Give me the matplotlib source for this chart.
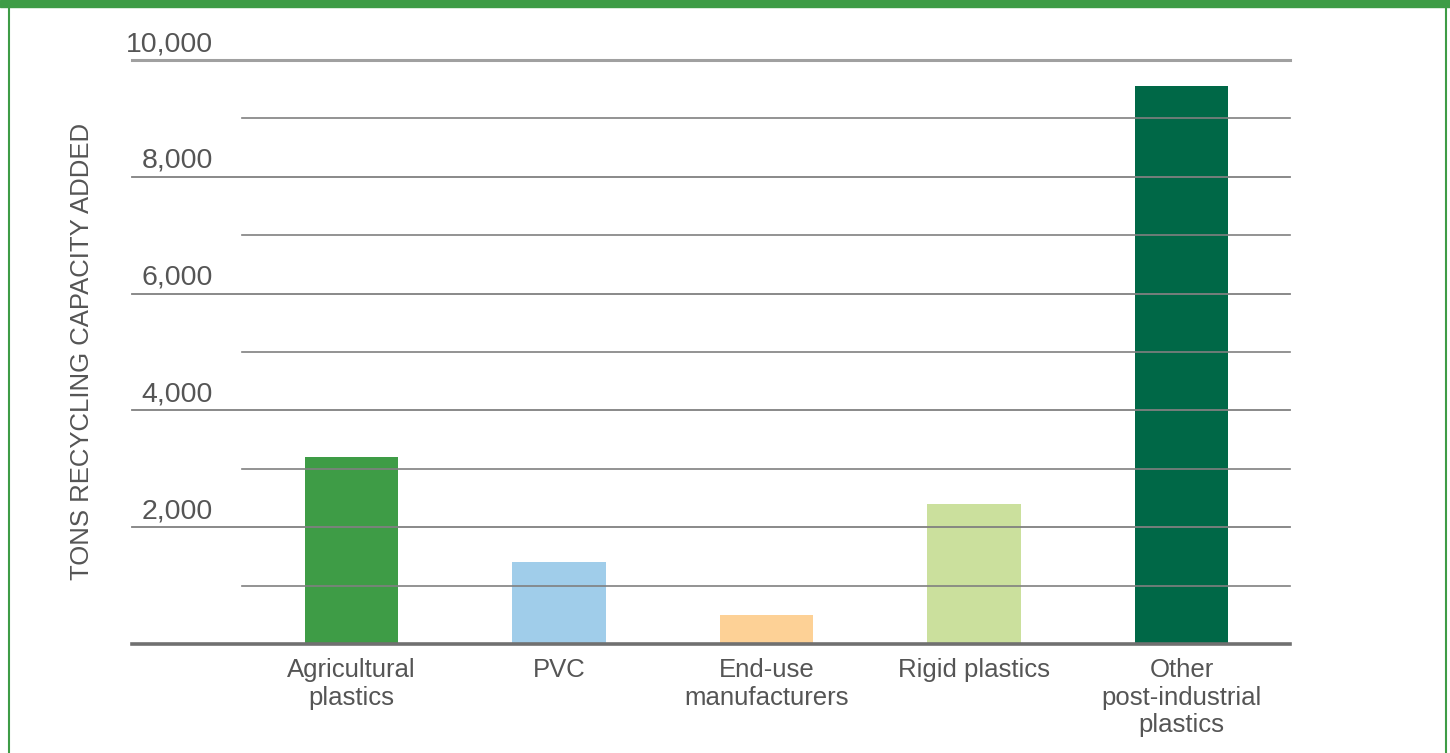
import matplotlib
matplotlib.use("Agg")
import matplotlib.pyplot as plt
from matplotlib.patches import Rectangle
import matplotlib.transforms as mtransforms

plt.rcParams['font.family'] = ['Liberation Sans', 'DejaVu Sans']

categories = ["Agricultural\nplastics", "PVC", "End-use\nmanufacturers",
              "Rigid plastics", "Other\npost-industrial\nplastics"]
values = [3200, 1400, 500, 2400, 9550]
colors = ["#3e9c46", "#a0cdea", "#fdd196", "#cbe09d", "#006847"]
ytick_values = [2000, 4000, 6000, 8000, 10000]
ytick_labels = ["2,000", "4,000", "6,000", "8,000", "10,000"]
minor_values = [1000, 3000, 5000, 7000, 9000]
ylabel = "TONS RECYCLING CAPACITY ADDED"

W, H = 1450, 753
fig = plt.figure(figsize=(W / 100, H / 100), dpi=100)

# Figure frame (green)
green = "#3e9c46"
fig.patches.append(Rectangle((0, (H - 7) / H), 1, 7 / H, transform=fig.transFigure,
                             color=green, zorder=0))
fig.add_artist(plt.Line2D([8.5 / W, 8.5 / W], [0, 1], transform=fig.transFigure,
                          color=green, lw=1.5))
fig.add_artist(plt.Line2D([1445.5 / W, 1445.5 / W], [0, 1], transform=fig.transFigure,
                          color=green, lw=1.5))

x0, x1 = 242, 1290
y_top, y_bot = 60, 644
ymax = 10000
ax = fig.add_axes([x0 / W, 1 - y_bot / H, (x1 - x0) / W, (y_bot - y_top) / H])
ax.set_ylim(0, ymax)
ax.set_xlim(-0.528, 4.523)

xs = list(range(len(categories)))
ax.bar(xs, values, width=0.45, color=colors, zorder=1)

for s in ax.spines.values():
    s.set_visible(False)
ax.set_yticks([])
ax.set_xticks(xs)
ax.set_xticklabels(categories, fontsize=18.5, color="#555555", linespacing=1.2)
ax.tick_params(axis='x', length=0, pad=10)

trans = mtransforms.blended_transform_factory(ax.transAxes, ax.transData)
left_ext = (132 - x0) / (x1 - x0)
for v in minor_values:
    ax.plot([0, 1], [v, v], transform=trans, color="#808080", lw=1.2, zorder=2, clip_on=False)
for v, lab in zip(ytick_values, ytick_labels):
    lw = 2.2 if v == ymax else 1.3
    c = "#a0a0a0" if v == ymax else "#808080"
    ax.plot([left_ext, 1], [v, v], transform=trans, color=c, lw=lw, zorder=2, clip_on=False)
    ax.text((213 - x0) / (x1 - x0), v + 50, lab, transform=trans, ha="right", va="bottom",
            fontsize=20.5, color="#555555")
ax.plot([left_ext, 1], [0, 0], transform=trans, color="#707070", lw=2.6, zorder=3, clip_on=False)

fig.text(82 / W, 1 - 351 / H, ylabel, rotation=90, ha="center", va="center",
         fontsize=18.5, color="#555555")

fig.savefig("out.png", dpi=100)
